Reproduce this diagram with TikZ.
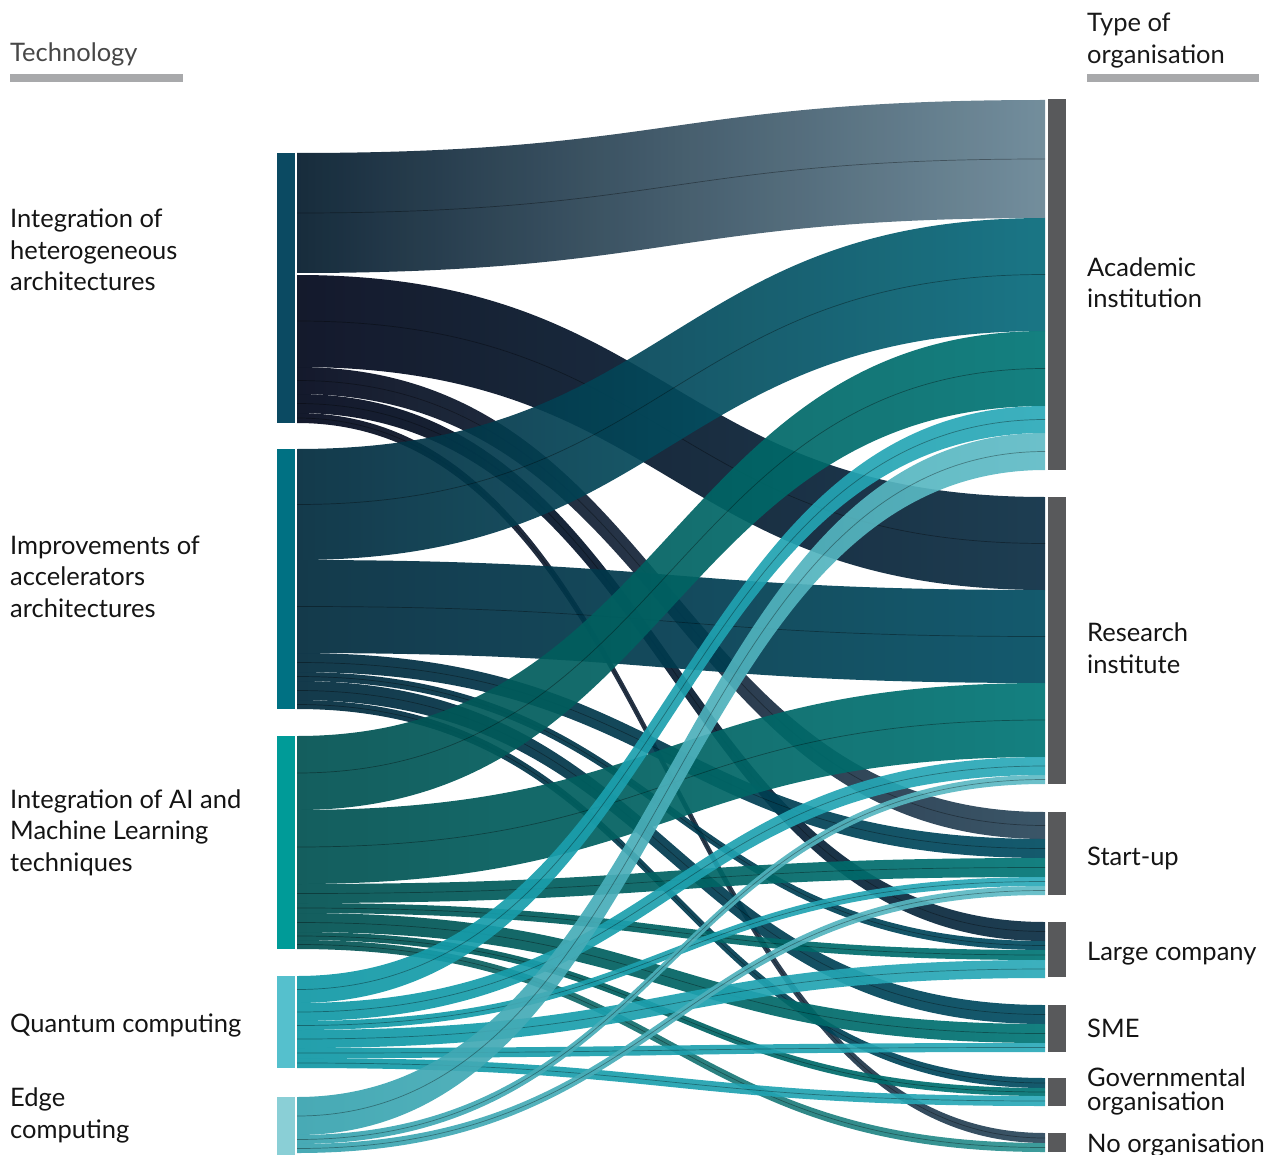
\documentclass[tikz,border=0pt]{standalone}
\usepackage{fontspec}
\setmainfont{Lato}
\definecolor{hetbar}{HTML}{0B4A62}
\definecolor{imprbar}{HTML}{007183}
\definecolor{aibar}{HTML}{009B98}
\definecolor{qbar}{HTML}{55C0CD}
\definecolor{edgebar}{HTML}{8ACFD6}
\definecolor{orgbar}{HTML}{58595B}
\definecolor{headbar}{HTML}{A8A9AB}
\definecolor{hetL}{HTML}{00061A}
\definecolor{hetR}{HTML}{0A2D43}
\definecolor{hetAL}{HTML}{031A2C}
\definecolor{hetAR}{HTML}{678494}
\definecolor{hetSR}{HTML}{2A475B}
\definecolor{imprL}{HTML}{00293C}
\definecolor{imprR}{HTML}{004C61}
\definecolor{imprAR}{HTML}{066A7B}
\definecolor{aiL}{HTML}{005050}
\definecolor{aiR}{HTML}{007575}
\definecolor{aiNR}{HTML}{2C9493}
\definecolor{qL}{HTML}{1098A5}
\definecolor{qR}{HTML}{2BA9B8}
\definecolor{edgeL}{HTML}{38A3AF}
\definecolor{edgeR}{HTML}{5FBBC5}
\newcommand{\flowband}[6]{%
  \path[left color=#5, right color=#6, fill opacity=0.92]
    (297,#1) .. controls (671,#1) and (671,#3) .. (1045,#3)
    -- (1045,#4) .. controls (671,#4) and (671,#2) .. (297,#2) -- cycle;
  \draw[divline] (297,{(#1+#2)/2}) .. controls (671,{(#1+#2)/2}) and (671,{(#3+#4)/2}) .. (1045,{(#3+#4)/2});
}
\begin{document}
\begin{tikzpicture}[x=1pt,y=-1pt,
  lbl/.style={anchor=base west, inner sep=0pt, align=left, font=\fontsize{25.5}{31.5}\selectfont, text=black!92},
  head/.style={anchor=base west, inner sep=0pt, align=left, font=\fontsize{25.5}{31.5}\selectfont},
  lbar/.style={rectangle, inner sep=0pt, minimum width=18pt, draw=none},
  rbar/.style={rectangle, inner sep=0pt, minimum width=18pt, draw=none, fill=orgbar},
  divline/.style={draw=black, draw opacity=0.35, line width=0.7pt}]
\useasboundingbox (0,0) rectangle (1268,1155);
\clip (0,0) rectangle (1268,1155);

% headers (anchor = baseline of last line)
\node[head, text=black!72] (techhead) at (10,62) {Technology};
\fill[headbar] (10,74) rectangle (183,82);
\node[head, text=black!90] (orghead) at (1087,63.5) {Type of\\organisation};
\fill[headbar] (1087,74) rectangle (1259,82);

% flows: Integration of heterogeneous architectures
\flowband{153}{273}{100}{218}{hetAL}{hetAR}
\flowband{275}{367}{497}{590}{hetL}{hetR}
\flowband{367}{394}{812}{839}{hetL}{hetSR}
\flowband{394}{413}{922}{941}{hetL}{hetR}
\flowband{413}{423}{1133}{1143}{hetL}{hetSR}
% Improvements of accelerators architectures
\flowband{449}{560}{218}{331}{imprL}{imprAR}
\flowband{560}{653}{590}{683}{imprL}{imprR}
\flowband{653}{672}{839}{858}{imprL}{imprR}
\flowband{672}{681}{941}{950}{imprL}{imprR}
\flowband{681}{700}{1005}{1024}{imprL}{imprR}
\flowband{700}{709}{1078}{1088}{imprL}{imprR}
% Integration of AI and ML
\flowband{736}{810}{331}{406}{aiL}{aiR}
\flowband{810}{884}{683}{757}{aiL}{aiR}
\flowband{884}{903}{858}{877}{aiL}{aiR}
\flowband{903}{913}{950}{960}{aiL}{aiR}
\flowband{913}{932}{1024}{1043}{aiL}{aiR}
\flowband{932}{940}{1088}{1096}{aiL}{aiR}
\flowband{940}{949}{1143}{1152}{aiL}{aiNR}
% Quantum computing
\flowband{976}{1003}{406}{433}{qL}{qR}
\flowband{1003}{1021}{757}{775}{qL}{qR}
\flowband{1021}{1030}{877}{886}{qL}{qR}
\flowband{1030}{1048}{960}{978}{qL}{qR}
\flowband{1048}{1058}{1043}{1052}{qL}{qR}
\flowband{1058}{1068}{1096}{1106}{qL}{qR}
% Edge computing
\flowband{1097}{1135}{433}{470}{edgeL}{edgeR}
\flowband{1135}{1144}{775}{784}{edgeL}{edgeR}
\flowband{1144}{1153}{886}{895}{edgeL}{edgeR}

% left bars
\node[lbar, fill=hetbar, minimum height=270pt] (het) at (285.5,288) {};
\node[lbar, fill=imprbar, minimum height=260pt] (impr) at (285.5,579) {};
\node[lbar, fill=aibar, minimum height=213pt] (ai) at (285.5,842.5) {};
\node[lbar, fill=qbar, minimum height=92pt] (quant) at (285.5,1022) {};
\node[lbar, fill=edgebar, minimum height=60pt] (edge) at (285.5,1127) {};

% right bars
\node[rbar, minimum height=371pt] (acad) at (1057,284.5) {};
\node[rbar, minimum height=287pt] (res) at (1057,640.5) {};
\node[rbar, minimum height=83pt] (start) at (1057,853.5) {};
\node[rbar, minimum height=55pt] (large) at (1057,949.5) {};
\node[rbar, minimum height=47pt] (sme) at (1057,1028.5) {};
\node[rbar, minimum height=28pt] (gov) at (1057,1092) {};
\node[rbar, minimum height=19pt] (noorg) at (1057,1142.5) {};

% left labels (anchor = baseline of last line)
\node[lbl] (hetl) at (10,291) {Integration of\\heterogeneous\\architectures};
\node[lbl] (imprl) at (10,617) {Improvements of\\accelerators\\architectures};
\node[lbl] (ail) at (10,871) {Integration of AI and\\Machine Learning\\techniques};
\node[lbl] (quantl) at (10,1032) {Quantum computing};
\node[lbl] (edgel) at (10,1138) {Edge\\computing};

% right labels
\node[lbl] (acadl) at (1087,308) {Academic\\institution};
\node[lbl] (resl) at (1087,673) {Research\\institute};
\node[lbl] (startl) at (1087,865) {Start-up};
\node[lbl] (largel) at (1087,960) {Large company};
\node[lbl] (smel) at (1087,1037) {SME};
\node[lbl, font=\fontsize{25.5}{24}\selectfont] (govl) at (1087,1110) {Governmental\\organisation};
\node[lbl] (noorgl) at (1087,1152) {No organisation};
\end{tikzpicture}
\end{document}
